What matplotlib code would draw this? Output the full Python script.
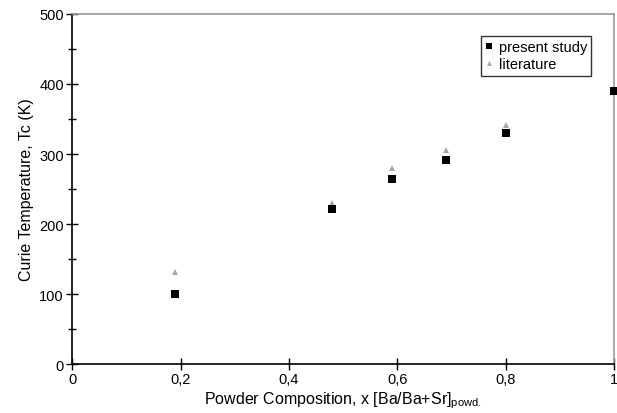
import matplotlib
matplotlib.use("Agg")

import matplotlib.pyplot as plt
from matplotlib.ticker import MultipleLocator, FuncFormatter

plt.rcParams["font.family"] = ["Liberation Sans", "DejaVu Sans"]

# Powder composition x and Curie temperatures (K)
x_present = [0.19, 0.48, 0.59, 0.69, 0.80, 1.0]
tc_present = [100, 221, 265, 291, 330, 390]

x_literature = [0.19, 0.48, 0.59, 0.69, 0.80, 1.0]
tc_literature = [131, 230, 280, 306, 341, 393]

x_ticks = [0, 0.2, 0.4, 0.6, 0.8, 1.0]
y_ticks = [0, 100, 200, 300, 400, 500]


def comma_fmt(v, pos):
    if abs(v) < 1e-9:
        return "0"
    if abs(v - 1) < 1e-9:
        return "1"
    return f"{v:.1f}".replace(".", ",")


fig = plt.figure(figsize=(6.17, 4.14), dpi=100)
ax = fig.add_axes([0.117, 0.118, 0.878, 0.846])

ax.plot(x_literature, tc_literature, linestyle="none", marker="^",
        markersize=5, markeredgewidth=0, color="#a6a6a6", label="literature",
        clip_on=False, zorder=3)
ax.plot(x_present, tc_present, linestyle="none", marker="s",
        markersize=5.2, markeredgewidth=0, color="black", label="present study",
        clip_on=False, zorder=4)

ax.set_xlim(0, 1)
ax.set_ylim(0, 500)
ax.set_xticks(x_ticks)
ax.set_yticks(y_ticks)
ax.yaxis.set_minor_locator(MultipleLocator(50))
ax.xaxis.set_major_formatter(FuncFormatter(comma_fmt))

ax.tick_params(axis="both", which="major", direction="inout", length=8,
               width=1, labelsize=10.5, pad=2)
ax.tick_params(axis="y", which="minor", direction="inout", length=6, width=1)
ax.tick_params(top=False, right=False)

for side in ["left", "bottom"]:
    ax.spines[side].set_color("black")
    ax.spines[side].set_linewidth(1.2)
for side in ["top", "right"]:
    ax.spines[side].set_color("#9a9a9a")
    ax.spines[side].set_linewidth(1.2)

ax.set_xlabel("Powder Composition, x [Ba/Ba+Sr]$_{\\mathregular{powd.}}$", fontsize=11.5, labelpad=2)
ax.set_ylabel("Curie Temperature, Tc (K)", fontsize=11.5, labelpad=4)

handles, labels = ax.get_legend_handles_labels()
leg = ax.legend(handles[::-1], labels[::-1], loc="upper right",
                bbox_to_anchor=(0.972, 0.958), fontsize=10.5, frameon=True,
                fancybox=False, edgecolor="black", handlelength=0.5,
                handletextpad=0.4, borderpad=0.3, labelspacing=0.2, markerscale=0.7)
leg.get_frame().set_linewidth(1.0)

fig.savefig("out.png", dpi=100)
